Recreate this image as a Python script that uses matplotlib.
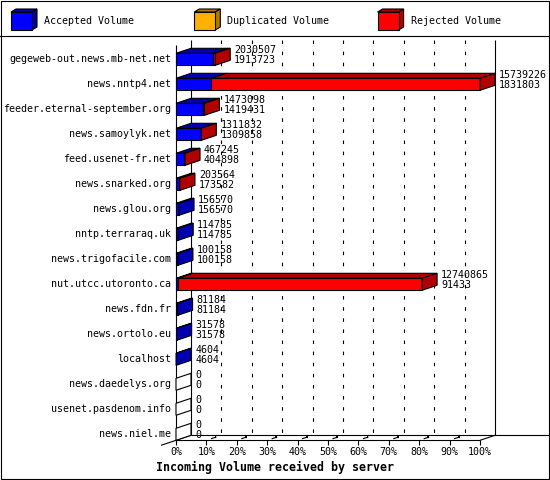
import matplotlib
matplotlib.use('Agg')
import matplotlib.pyplot as plt
from matplotlib.patches import Polygon, Rectangle

# data (bytes per server)
hosts = ['gegeweb-out.news.mb-net.net', 'news.nntp4.net', 'feeder.eternal-september.org',
         'news.samoylyk.net', 'feed.usenet-fr.net', 'news.snarked.org', 'news.glou.org',
         'nntp.terraraq.uk', 'news.trigofacile.com', 'nut.utcc.utoronto.ca', 'news.fdn.fr',
         'news.ortolo.eu', 'localhost', 'news.daedelys.org', 'usenet.pasdenom.info', 'news.niel.me']
total = [2030507, 15739226, 1473098, 1311832, 467245, 203564, 156570, 114785,
         100158, 12740865, 81184, 31578, 4604, 0, 0, 0]
accepted = [1913723, 1831803, 1419431, 1309858, 404898, 173582, 156570, 114785,
            100158, 91433, 81184, 31578, 4604, 0, 0, 0]
duplicated = [0] * 16

series_names = ['Accepted Volume', 'Duplicated Volume', 'Rejected Volume']
front_colors = ['#0000ff', '#ffb000', '#ff0000']
side_colors = ['#0000b0', '#b07a00', '#b00000']
pct_ticks = [0, 10, 20, 30, 40, 50, 60, 70, 80, 90, 100]
x_title = 'Incoming Volume received by server'

# layout in pixels
W, H = 550, 480
X0, XW = 176, 304          # front 0% and width of 100%
TOP, FLOOR = 45, 440.3     # front top / front floor
ROW0, ROW = 59.3, 25       # first row centre, row pitch
DX, DY = 15, 5             # 3d depth
HALF = 6                   # half bar height
LW = 0.8
MONO = 'DejaVu Sans Mono'


def main():
    fig = plt.figure(figsize=(W / 100, H / 100), dpi=100)

    # frame and legend drawn on a pixel canvas
    bg = fig.add_axes([0, 0, 1, 1])
    bg.set_xlim(0, W)
    bg.set_ylim(H, 0)
    bg.axis('off')
    bg.add_patch(Rectangle((0.5, 0.5), W - 1.5, H - 1.5, fill=False, ec='black', lw=LW))
    bg.plot([0, W], [35.5, 35.5], color='black', lw=LW)
    for k, name in enumerate(series_names):
        x = 11 + k * 183.3
        bg.add_patch(Polygon([(x, 12), (x + 5, 9), (x + 26, 9), (x + 21, 12)],
                             fc=side_colors[k], ec='black', lw=LW))
        bg.add_patch(Polygon([(x + 21, 12), (x + 26, 9), (x + 26, 27), (x + 21, 30)],
                             fc=side_colors[k], ec='black', lw=LW))
        bg.add_patch(Rectangle((x, 12), 21, 18, fc=front_colors[k], ec='black', lw=LW))
        bg.text(x + 33, 20.5, name, ha='left', va='center', fontsize=7.2, family=MONO)

    vmax = max(total)
    ybot = (FLOOR - ROW0) / ROW
    ytop = (TOP - ROW0) / ROW
    ax = fig.add_axes([X0 / W, 1 - FLOOR / H, XW / W, (FLOOR - TOP) / H])
    ax.set_xlim(0, vmax)
    ax.set_ylim(ybot, ytop)
    ax.axis('off')

    px = vmax / XW      # one pixel in data units
    dx = DX * px
    dy = DY / ROW
    h = HALF / ROW

    def line(xs, ys, **kw):
        kw.setdefault('color', 'black')
        kw.setdefault('lw', LW)
        ax.plot(xs, ys, clip_on=False, solid_capstyle='butt', **kw)

    # back wall grid
    for p in pct_ticks[1:-1]:
        xv = vmax * p / 100 + dx
        line([xv, xv], [ytop - dy, ybot - dy], ls=(0, (3.2, 6.8)), zorder=1)
    line([dx, dx], [ytop - dy, ybot - dy], zorder=1)
    line([vmax + dx, vmax + dx], [ytop - dy, ybot - dy], zorder=1)
    line([0, 0], [ytop, ybot], zorder=1)
    # floor
    line([0, vmax], [ybot, ybot], zorder=1)
    line([dx, vmax + 345 * px], [ybot - dy, ybot - dy], zorder=1)
    line([-dx, dx], [ybot + dy, ybot - dy], zorder=1)
    line([vmax, vmax + dx], [ybot, ybot - dy], zorder=1)
    for p in pct_ticks:
        xv = vmax * p / 100
        line([xv, xv], [ybot, ybot + 5 / ROW], zorder=1)
        ax.text(xv, ybot + 11.7 / ROW, '%d%%' % p, ha='center', va='center',
                fontsize=7.2, family=MONO, clip_on=False)
        if 0 < p < 100:
            line([xv + 0.3 * dx, xv + 0.67 * dx], [ybot - 0.3 * dy, ybot - 0.67 * dy], zorder=1)
            line([xv + 0.55 * dx, xv + 0.67 * dx], [ybot - 0.6 * dy, ybot - 0.6 * dy],
                 lw=1.6, zorder=1)

    # bars
    for i, host in enumerate(hosts):
        acc, dup, tot = accepted[i], duplicated[i], total[i]
        edges = [0, acc, acc + dup, tot]
        y1, y2 = i - h, i + h
        last = None
        for k in range(3):
            a, b = edges[k], edges[k + 1]
            if b <= a:
                continue
            last = k
            ax.add_patch(Polygon([(a, y1), (b, y1), (b + dx, y1 - dy), (a + dx, y1 - dy)],
                                 fc=side_colors[k], ec='black', lw=LW, clip_on=False, zorder=3))
            ax.add_patch(Polygon([(a, y1), (b, y1), (b, y2), (a, y2)],
                                 fc=front_colors[k], ec='black', lw=LW, clip_on=False, zorder=3))
        fc = side_colors[last] if last is not None else 'white'
        ax.add_patch(Polygon([(tot, y1), (tot + dx, y1 - dy), (tot + dx, y2 - dy), (tot, y2)],
                             fc=fc, ec='black', lw=LW, clip_on=False, zorder=3))

        ax.text(-4.5 * px, i, host, ha='right', va='center', fontsize=7.2,
                family=MONO, clip_on=False)
        xl = tot + dx + 4 * px
        ax.text(xl, i - 9.5 / ROW, str(tot), ha='left', va='center', fontsize=7.2,
                family=MONO, clip_on=False, zorder=4)
        ax.text(xl, i + 1 / ROW, str(acc), ha='left', va='center', fontsize=7.2,
                family=MONO, clip_on=False, zorder=4)

    fig.text(156 / W, 1 - 467 / H, x_title, ha='left', va='center', fontsize=8.4,
             family=MONO, weight='bold')

    fig.savefig('out.png', dpi=100)


if __name__ == '__main__':
    main()
